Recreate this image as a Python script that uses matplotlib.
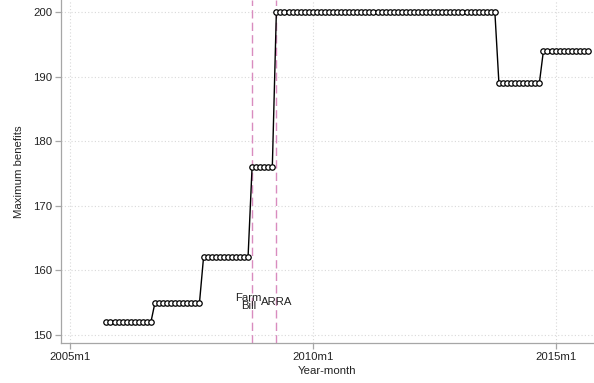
import matplotlib
matplotlib.use("Agg")
import matplotlib.pyplot as plt

# Monthly series, 2005m10 through 2015m9 (month index counted from 2005m1 = 0)
start_month = 9
max_benefits = (
    [152] * 12 +   # 2005m10 - 2006m9
    [155] * 12 +   # 2006m10 - 2007m9
    [162] * 12 +   # 2007m10 - 2008m9
    [176] * 6 +    # 2008m10 - 2009m3
    [200] * 55 +   # 2009m4  - 2013m10
    [189] * 11 +   # 2013m11 - 2014m9
    [194] * 12     # 2014m10 - 2015m9
)
months = list(range(start_month, start_month + len(max_benefits)))

# Policy events
event_months = [45, 51]          # 2008m10, 2009m4
event_labels = ["Farm\nBill", "ARRA"]
event_label_offsets = [-0.8, 0.0]

xtick_months = [0, 60, 120]
xtick_labels = ["2005m1", "2010m1", "2015m1"]
ytick_values = [150, 160, 170, 180, 190, 200]

plt.rcParams["font.family"] = ["Liberation Sans", "DejaVu Sans"]
fs = 8.2

fig = plt.figure(figsize=(5.94, 3.83), dpi=100)
W, H = 594, 383
ax = fig.add_axes([60.7 / W, 39.7 / H, (W - 60.7) / W, 343.3 / H])

grid_kw = dict(color="#d9d9d9", linestyle=(0, (1, 2)), linewidth=0.8, zorder=0)
for yv in ytick_values:
    ax.axhline(yv, **grid_kw)
for xv in xtick_months:
    ax.axvline(xv, **grid_kw)

for m in event_months:
    ax.axvline(m, color="#d98cbf", linestyle=(0, (6, 3)), linewidth=1.0, zorder=1)

ax.plot(months, max_benefits, color="black", linewidth=1.0, marker="o",
        markersize=3.9, markerfacecolor="white", markeredgecolor="black",
        markeredgewidth=0.9, zorder=3)

for m, lab, off in zip(event_months, event_labels, event_label_offsets):
    ax.text(m + off, 155.1, lab, ha="center", va="center", fontsize=fs,
            color="#222222", linespacing=0.85, zorder=4)

ax.set_xlim(-2.3, 129.5)
ax.set_ylim(148.7, 201.86)

ax.set_xticks(xtick_months)
ax.set_xticklabels(xtick_labels)
ax.set_yticks(ytick_values)

for side in ("top", "right"):
    ax.spines[side].set_visible(False)
for side in ("left", "bottom"):
    ax.spines[side].set_color("#a6a6a6")
    ax.spines[side].set_linewidth(0.9)

ax.tick_params(axis="both", colors="#a6a6a6", length=4, width=0.9,
               labelsize=fs, labelcolor="#222222", pad=2)

ax.set_xlabel("Year-month", fontsize=fs, color="#222222", labelpad=3)
ax.set_ylabel("Maximum benefits", fontsize=fs, color="#222222", labelpad=7)

fig.savefig("out.png", dpi=100)
